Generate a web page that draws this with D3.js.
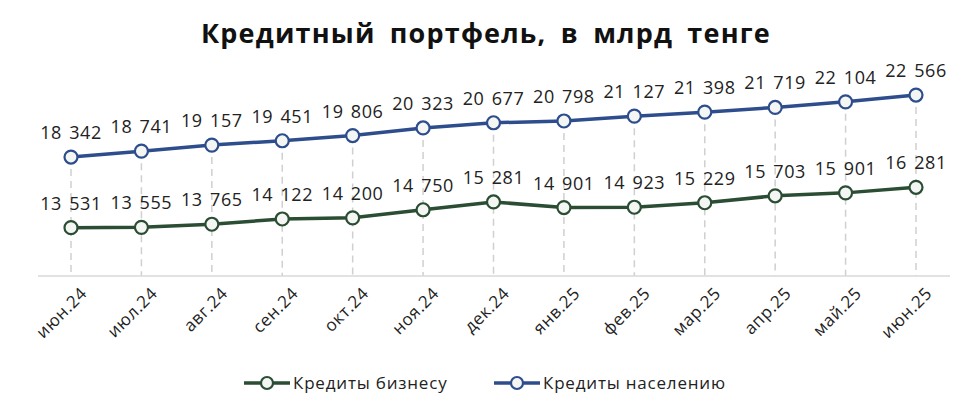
<!DOCTYPE html>
<html><head><meta charset="utf-8">
<script src="https://cdn.jsdelivr.net/npm/d3@7"></script>
<style>body{margin:0;background:#fff}text{font-family:"Open Sans","DejaVu Sans",sans-serif}</style>
</head><body><svg id="c" width="974" height="412"></svg>
<script>
const categories=["июн.24","июл.24","авг.24","сен.24","окт.24","ноя.24","дек.24","янв.25","фев.25","мар.25","апр.25","май.25","июн.25"];
const business=[13531,13555,13765,14122,14200,14750,15281,14901,14923,15229,15703,15901,16281];
const population=[18342,18741,19157,19451,19806,20323,20677,20798,21127,21398,21719,22104,22566];
const seriesNames=["Кредиты бизнесу","Кредиты населению"];
const colors=["#2b4d33","#2e4d8c"];
const svg=d3.select("#c");
const x=d3.scalePoint().domain(categories).range([71,916]);
const y=d3.scaleLinear().domain([10000,25000]).range([279.5,59.3]);
const axisY=276;
svg.append("text").attr("x",486).attr("y",43).attr("text-anchor","middle").attr("font-size",27).attr("font-weight","bold").attr("fill","#111").style("letter-spacing","1.2px").style("word-spacing","6px").text("Кредитный портфель, в млрд тенге");
categories.forEach((c,i)=>{svg.append("line").attr("x1",x(c)).attr("x2",x(c)).attr("y1",y(population[i])).attr("y2",axisY).attr("stroke","#d0d0d0").attr("stroke-width",1.5).attr("stroke-dasharray","7,5");});
svg.append("line").attr("x1",38).attr("x2",950).attr("y1",axisY).attr("y2",axisY).attr("stroke","#d9d9d9").attr("stroke-width",1.5);
const fmt=v=>d3.format(",")(v).replace(","," ");
[business,population].forEach((data,s)=>{
  const line=d3.line().x((d,i)=>x(categories[i])).y(d=>y(d));
  svg.append("path").datum(data).attr("d",line).attr("fill","none").attr("stroke",colors[s]).attr("stroke-width",3.5);
  svg.selectAll(null).data(data).enter().append("circle").attr("cx",(d,i)=>x(categories[i])).attr("cy",d=>y(d)).attr("r",6.5).attr("fill","#f3f6f3").attr("stroke",colors[s]).attr("stroke-width",2.2);
  svg.selectAll(null).data(data).enter().append("text").attr("x",(d,i)=>x(categories[i])).attr("y",d=>y(d)-18).attr("text-anchor","middle").attr("font-size",18).attr("fill","#222").style("letter-spacing","0.6px").style("word-spacing","2px").text(fmt);
});
const xa=svg.append("g").attr("transform",`translate(0,${axisY})`).call(d3.axisBottom(x).tickSize(0));
xa.select(".domain").remove();
xa.selectAll("text").attr("font-size",17).attr("fill","#222").style("letter-spacing","0.6px").attr("text-anchor","end").attr("transform","translate(6,8) rotate(-45)").attr("dy","0.7em").attr("dx","0");
const lg=[{x:244,t:seriesNames[0],c:colors[0]},{x:494,t:seriesNames[1],c:colors[1]}];
lg.forEach(l=>{
  svg.append("line").attr("x1",l.x).attr("x2",l.x+46).attr("y1",383).attr("y2",383).attr("stroke",l.c).attr("stroke-width",3.5);
  svg.append("circle").attr("cx",l.x+23).attr("cy",383).attr("r",6).attr("fill","#f3f6f3").attr("stroke",l.c).attr("stroke-width",2.2);
  svg.append("text").attr("x",l.x+49).attr("y",389).attr("font-size",17).attr("fill","#222").style("letter-spacing","0.8px").text(l.t);
});
</script></body></html>
